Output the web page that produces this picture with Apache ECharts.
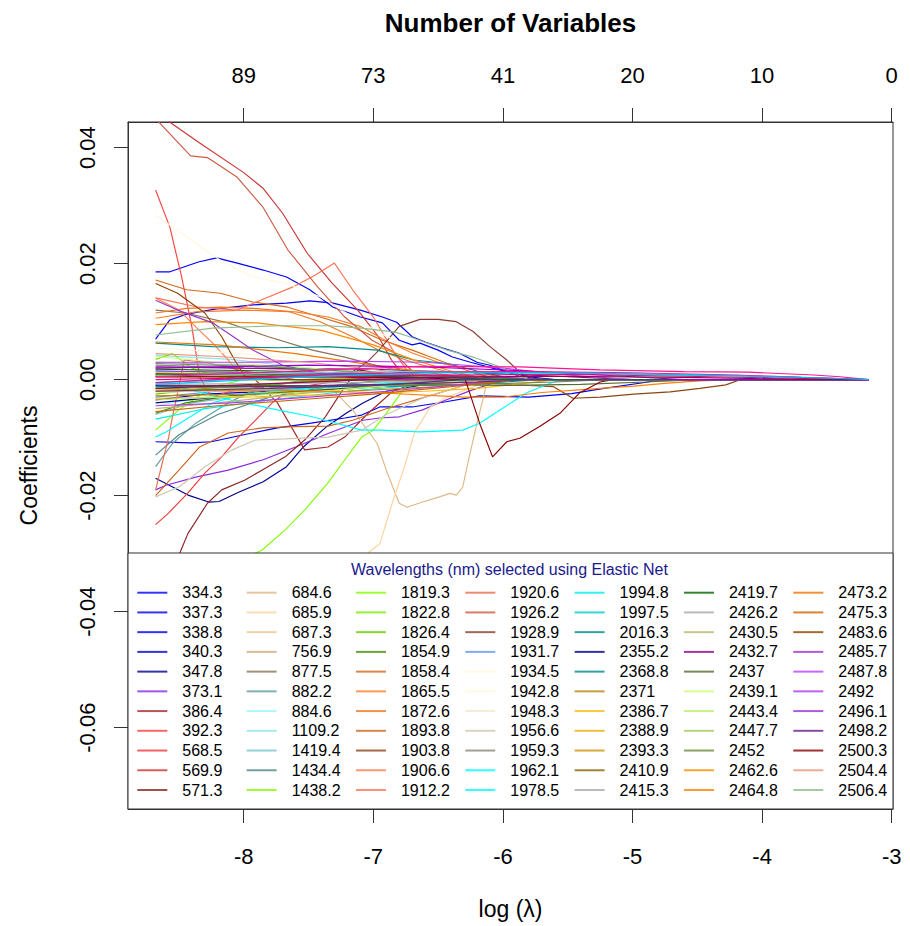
<!DOCTYPE html>
<html>
<head>
<meta charset="utf-8">
<script src="https://cdn.jsdelivr.net/npm/echarts@6/dist/echarts.min.js"></script>
<style>
html,body{margin:0;padding:0;background:#fff;}
#chart{width:910px;height:926px;}
</style>
</head>
<body>
<div id="chart"></div>
<script>
// ---- Data ----
const wavelengths = [
  '334.3','337.3','338.8','340.3','347.8','373.1','386.4','392.3','568.5','569.9','571.3',
  '684.6','685.9','687.3','756.9','877.5','882.2','884.6','1109.2','1419.4','1434.4','1438.2',
  '1819.3','1822.8','1826.4','1854.9','1858.4','1865.5','1872.6','1893.8','1903.8','1906.6','1912.2',
  '1920.6','1926.2','1928.9','1931.7','1934.5','1942.8','1948.3','1956.6','1959.3','1962.1','1978.5',
  '1994.8','1997.5','2016.3','2355.2','2368.8','2371','2386.7','2388.9','2393.3','2410.9','2415.3',
  '2419.7','2426.2','2430.5','2432.7','2437','2439.1','2443.4','2447.7','2452','2462.6','2464.8',
  '2473.2','2475.3','2483.6','2485.7','2487.8','2492','2496.1','2498.2','2500.3','2504.4','2506.4'
];

const lineColors = [
  '#0000FF','#0000FF','#0000EE','#0000CD','#00008B','#8A2BE2','#A52A2A','#FF4040','#EE3B3B','#CD3333','#8B2323',
  '#DEB887','#FFD39B','#EEC591','#CDAA7D','#8B7355','#5F9EA0','#98F5FF','#8EE5EE','#7AC5CD','#53868B','#7FFF00',
  '#7FFF00','#76EE00','#66CD00','#458B00','#D2691E','#FF7F24','#EE7621','#CD661D','#8B4513','#FF7F50','#FF7256',
  '#EE6A50','#CD5B45','#8B3E2F','#6495ED','#FFF8DC','#FFF8DC','#EEE8CD','#CDC8B1','#8B8878','#00FFFF','#00FFFF',
  '#00EEEE','#00CDCD','#008B8B','#00008B','#008B8B','#B8860B','#FFB90F','#EEAD0E','#CD950C','#8B6508','#A9A9A9',
  '#006400','#A9A9A9','#BDB76B','#8B008B','#556B2F','#CAFF70','#BCEE68','#A2CD5A','#6E8B3D','#FF8C00','#FF7F00',
  '#EE7600','#CD6600','#8B4500','#9932CC','#BF3EFF','#B23AEE','#9A32CD','#68228B','#8B0000','#E9967A','#8FBC8F'
];

// coefficient paths: [log(lambda), coefficient]
const coefPaths = [
  // 334.3
  [[-8.68,0.0186],[-8.57,0.0186],[-8.35,0.0203],[-8.21,0.0210],[-8.05,0.0201],[-7.85,0.0189],[-7.67,0.0177],[-7.49,0.0155],[-7.31,0.0125],[-7.10,0.0108],[-6.93,0.0098],[-6.80,0.0068],[-6.70,0.0060],[-6.64,0.0063],[-6.50,0.0051],[-6.39,0.0039],[-6.25,0.0030],[-6.08,0.0020],[-5.80,0.0005],[-5.60,0],[-3.18,0]],
  // 337.3
  [[-8.68,0.0070],[-8.57,0.0103],[-8.44,0.0113],[-8.21,0.0122],[-7.93,0.0129],[-7.67,0.0132],[-7.49,0.0136],[-7.31,0.0132],[-7.10,0.0120],[-6.93,0.0108],[-6.82,0.0099],[-6.70,0.0074],[-6.60,0.0065],[-6.47,0.0055],[-6.34,0.0046],[-6.20,0.0030],[-6.10,0.0025],[-5.90,0.0008],[-5.70,0],[-3.18,0]],
  // 338.8
  [[-8.68,-0.0107],[-8.41,-0.0109],[-8.25,-0.0107],[-8.00,-0.0095],[-7.74,-0.0083],[-7.48,-0.0075],[-7.22,-0.0066],[-7.09,-0.0061],[-6.95,-0.0047],[-6.70,-0.0047],[-6.44,-0.0038],[-6.18,-0.0028],[-5.80,-0.0030],[-5.47,-0.0024],[-5.22,-0.0015],[-4.88,-0.0004],[-4.80,0],[-3.18,0]],
  // 340.3
  [[-8.68,-0.0035],[-8.30,-0.0025],[-7.80,-0.0020],[-7.20,-0.0010],[-6.60,-0.0005],[-6.20,0],[-3.18,0]],
  // 347.8
  [[-8.68,-0.0170],[-8.53,-0.0187],[-8.43,-0.0199],[-8.27,-0.0211],[-8.19,-0.0210],[-8.04,-0.0194],[-7.85,-0.0176],[-7.67,-0.0150],[-7.54,-0.0116],[-7.36,-0.0081],[-7.21,-0.0058],[-7.08,-0.0040],[-6.90,-0.0020],[-6.60,-0.0008],[-6.30,0],[-3.18,0]],
  // 373.1
  [[-8.68,-0.0190],[-8.60,-0.0182],[-8.37,-0.0168],[-8.12,-0.0156],[-7.85,-0.0138],[-7.60,-0.0116],[-7.34,-0.0092],[-7.08,-0.0070],[-6.95,-0.0066],[-6.80,-0.0064],[-6.62,-0.0052],[-6.44,-0.0035],[-6.24,-0.0018],[-6.00,0],[-3.18,0]],
  // 386.4
  [[-8.68,0.0005],[-8.20,0.0005],[-7.91,0],[-7.74,-0.0040],[-7.53,-0.0121],[-7.35,-0.0116],[-7.22,-0.0099],[-7.05,-0.0060],[-6.85,-0.0020],[-6.60,0],[-3.18,0]],
  // 392.3
  [[-8.68,0.0327],[-8.57,0.0263],[-8.48,0.0178],[-8.40,0.0091],[-8.34,0.0005],[-8.25,-0.0030],[-8.10,-0.0020],[-7.80,-0.0010],[-7.40,0],[-3.18,0]],
  // 568.5
  [[-8.68,-0.0250],[-8.58,-0.0230],[-8.43,-0.0195],[-8.30,-0.0161],[-8.17,-0.0133],[-8.04,-0.0099],[-7.91,-0.0070],[-7.78,-0.0040],[-7.68,-0.0023],[-7.50,-0.0010],[-7.20,0],[-3.18,0]],
  // 569.9
  [[-8.68,0.0480],[-8.57,0.0444],[-8.34,0.0408],[-8.00,0.0357],[-7.85,0.0330],[-7.70,0.0287],[-7.51,0.0218],[-7.32,0.0167],[-7.12,0.0120],[-6.96,0.0074],[-6.86,0.0034],[-6.76,0.0005],[-6.60,0],[-3.18,0]],
  // 571.3
  [[-8.68,-0.0374],[-8.57,-0.0337],[-8.49,-0.0297],[-8.43,-0.0265],[-8.28,-0.0213],[-8.17,-0.0190],[-7.99,-0.0173],[-7.86,-0.0156],[-7.68,-0.0133],[-7.53,-0.0104],[-7.37,-0.0064],[-7.22,-0.0012],[-7.12,0.0017],[-6.90,0.0010],[-6.60,0],[-3.18,0]],
  // 684.6
  [[-8.68,-0.0010],[-7.80,-0.0012],[-7.31,-0.0018],[-7.16,-0.0052],[-6.97,-0.0110],[-6.90,-0.0156],[-6.85,-0.0185],[-6.80,-0.0213],[-6.74,-0.0220],[-6.62,-0.0211],[-6.49,-0.0202],[-6.41,-0.0196],[-6.36,-0.0199],[-6.31,-0.0185],[-6.26,-0.0133],[-6.20,-0.0075],[-6.15,-0.0030],[-6.12,0],[-3.18,0]],
  // 685.9
  [[-8.68,-0.0595],[-8.49,-0.0584],[-8.36,-0.0549],[-8.26,-0.0504],[-8.18,-0.0478],[-8.03,-0.0470],[-7.93,-0.0435],[-7.80,-0.0400],[-7.67,-0.0359],[-7.54,-0.0340],[-7.47,-0.0340],[-7.33,-0.0354],[-7.18,-0.0333],[-7.05,-0.0300],[-6.95,-0.0283],[-6.85,-0.0210],[-6.76,-0.0150],[-6.68,-0.0090],[-6.56,-0.0047],[-6.43,-0.0030],[-6.20,-0.0010],[-6.00,0],[-3.18,0]],
  // 687.3
  [[-8.68,0.0020],[-8.20,0.0015],[-7.60,0.0010],[-7.00,0.0004],[-6.60,0],[-3.18,0]],
  // 756.9
  [[-8.68,-0.0015],[-8.00,-0.0020],[-7.40,-0.0015],[-6.80,-0.0005],[-6.50,0],[-3.18,0]],
  // 877.5
  [[-8.68,0.0120],[-8.45,0.0115],[-8.12,0.0098],[-7.81,0.0074],[-7.47,0.0051],[-7.22,0.0039],[-6.90,0.0020],[-6.50,0.0005],[-6.20,0],[-3.18,0]],
  // 882.2
  [[-8.68,-0.0150],[-8.55,-0.0110],[-8.37,-0.0075],[-8.12,-0.0040],[-7.86,-0.0012],[-7.50,0],[-3.18,0]],
  // 884.6
  [[-8.68,-0.0045],[-8.30,-0.0030],[-7.70,-0.0020],[-7.00,-0.0010],[-6.50,0],[-3.18,0]],
  // 1109.2
  [[-8.68,0.0042],[-8.10,0.0035],[-7.50,0.0020],[-6.90,0.0008],[-6.40,0],[-3.18,0]],
  // 1419.4
  [[-8.68,-0.0060],[-8.40,-0.0040],[-7.90,-0.0025],[-7.30,-0.0010],[-6.80,0],[-3.18,0]],
  // 1434.4
  [[-8.68,-0.0130],[-8.50,-0.0095],[-8.20,-0.0060],[-7.80,-0.0030],[-7.30,-0.0010],[-6.90,0],[-3.18,0]],
  // 1438.2
  [[-8.68,-0.0374],[-8.57,-0.0359],[-8.41,-0.0331],[-8.28,-0.0326],[-8.16,-0.0321],[-8.03,-0.0311],[-7.86,-0.0294],[-7.68,-0.0259],[-7.53,-0.0225],[-7.35,-0.0178],[-7.22,-0.0138],[-7.09,-0.0099],[-7.00,-0.0087],[-6.90,-0.0058],[-6.77,-0.0018],[-6.70,0],[-3.18,0]],
  // 1819.3
  [[-8.68,-0.0087],[-8.50,-0.0052],[-8.24,-0.0012],[-8.00,0],[-3.18,0]],
  // 1822.8
  [[-8.68,0.0035],[-8.55,0.0045],[-8.40,0.0020],[-8.20,0.0005],[-8.00,0],[-3.18,0]],
  // 1826.4
  [[-8.68,-0.0025],[-8.30,-0.0015],[-7.80,-0.0008],[-7.30,0],[-3.18,0]],
  // 1854.9
  [[-8.68,-0.0058],[-8.45,-0.0040],[-8.10,-0.0028],[-7.60,-0.0020],[-7.00,-0.0012],[-6.50,-0.0005],[-6.20,0],[-3.18,0]],
  // 1858.4
  [[-8.68,0.0172],[-8.44,0.0155],[-8.18,0.0149],[-7.93,0.0134],[-7.66,0.0125],[-7.41,0.0108],[-7.16,0.0091],[-6.93,0.0068],[-6.70,0.0051],[-6.45,0.0030],[-6.20,0.0010],[-6.00,0],[-3.18,0]],
  // 1865.5
  [[-8.68,0.0106],[-8.37,0.0117],[-7.99,0.0120],[-7.60,0.0117],[-7.35,0.0108],[-7.09,0.0091],[-6.91,0.0068],[-6.70,0.0046],[-6.50,0.0030],[-6.20,0.0012],[-5.90,0],[-3.18,0]],
  // 1872.6
  [[-8.68,0.0115],[-8.44,0.0123],[-8.18,0.0125],[-7.93,0.0123],[-7.66,0.0118],[-7.41,0.0100],[-7.16,0.0074],[-6.96,0.0051],[-6.70,0.0030],[-6.40,0.0012],[-6.10,0],[-3.18,0]],
  // 1893.8
  [[-8.68,-0.0200],[-8.50,-0.0156],[-8.34,-0.0116],[-8.12,-0.0092],[-7.86,-0.0083],[-7.60,-0.0081],[-7.35,-0.0080],[-7.16,-0.0070],[-6.90,-0.0050],[-6.60,-0.0030],[-6.30,-0.0010],[-6.10,0],[-3.18,0]],
  // 1903.8
  [[-8.68,0.0010],[-7.80,0.0005],[-6.80,0],[-6.20,-0.0005],[-5.80,-0.0010],[-5.61,-0.0012],[-5.46,-0.0032],[-5.25,-0.0030],[-4.99,-0.0025],[-4.71,-0.0021],[-4.48,-0.0015],[-4.28,-0.0009],[-4.17,0],[-3.18,0]],
  // 1906.6
  [[-8.68,0.0141],[-8.50,0.0120],[-8.37,0.0091],[-8.24,0.0063],[-8.12,0.0034],[-8.00,0],[-3.18,0]],
  // 1912.2
  [[-8.68,0.0141],[-8.35,0.0125],[-8.05,0.0120],[-7.87,0.0137],[-7.62,0.0160],[-7.45,0.0180],[-7.30,0.0201],[-7.16,0.0155],[-7.00,0.0108],[-6.85,0.0051],[-6.72,0.0010],[-6.60,0],[-3.18,0]],
  // 1920.6
  [[-8.68,-0.0190],[-8.58,-0.0100],[-8.55,-0.0064],[-8.50,-0.0012],[-8.46,0.0034],[-8.30,0.0030],[-8.00,0.0015],[-7.60,0],[-3.18,0]],
  // 1926.2
  [[-8.68,0.0450],[-8.41,0.0386],[-8.28,0.0383],[-8.05,0.0349],[-7.85,0.0297],[-7.66,0.0224],[-7.43,0.0160],[-7.22,0.0108],[-7.01,0.0068],[-6.86,0.0050],[-6.70,0.0015],[-6.60,0],[-3.18,0]],
  // 1928.9
  [[-8.68,0.0005],[-7.60,0.0005],[-7.20,0.0008],[-7.05,0.0030],[-6.96,0.0050],[-6.80,0.0092],[-6.64,0.0104],[-6.50,0.0104],[-6.36,0.0100],[-6.23,0.0083],[-6.10,0.0057],[-5.97,0.0034],[-5.87,0.0013],[-5.75,0],[-3.18,0]],
  // 1931.7
  [[-8.68,-0.0030],[-8.20,-0.0020],[-7.50,-0.0015],[-6.80,-0.0005],[-6.40,0],[-3.18,0]],
  // 1934.5
  [[-8.68,0.0284],[-8.44,0.0246],[-8.18,0.0206],[-7.93,0.0177],[-7.67,0.0166],[-7.41,0.0143],[-7.16,0.0108],[-6.90,0.0075],[-6.60,0.0045],[-6.30,0.0020],[-6.00,0],[-3.18,0]],
  // 1942.8
  [[-8.68,0.0055],[-8.00,0.0045],[-7.30,0.0030],[-6.60,0.0010],[-6.20,0],[-3.18,0]],
  // 1948.3
  [[-8.68,-0.0022],[-8.00,-0.0018],[-7.20,-0.0010],[-6.50,0],[-3.18,0]],
  // 1956.6
  [[-8.68,-0.0202],[-8.50,-0.0185],[-8.30,-0.0150],[-8.09,-0.0121],[-7.91,-0.0104],[-7.68,-0.0102],[-7.35,-0.0099],[-7.09,-0.0087],[-6.90,-0.0060],[-6.60,-0.0030],[-6.30,-0.0010],[-6.10,0],[-3.18,0]],
  // 1959.3
  [[-8.68,0.0025],[-8.00,0.0020],[-7.20,0.0015],[-6.50,0.0005],[-6.10,0],[-3.18,0]],
  // 1962.1
  [[-8.68,-0.0005],[-8.51,-0.0012],[-8.10,-0.0035],[-7.74,-0.0052],[-7.47,-0.0064],[-7.09,-0.0087],[-6.95,-0.0087],[-6.64,-0.0090],[-6.31,-0.0087],[-6.18,-0.0075],[-6.02,-0.0052],[-5.82,-0.0023],[-5.61,-0.0004],[-5.50,0],[-3.18,0]],
  // 1978.5
  [[-8.68,-0.0099],[-8.60,-0.0090],[-8.45,-0.0069],[-8.24,-0.0040],[-8.00,-0.0025],[-7.50,-0.0015],[-7.00,-0.0008],[-6.50,0],[-3.18,0]],
  // 1994.8
  [[-8.68,-0.0068],[-8.30,-0.0050],[-7.80,-0.0035],[-7.20,-0.0020],[-6.60,-0.0008],[-6.20,0],[-3.18,0]],
  // 1997.5
  [[-8.68,0.0015],[-8.00,0.0012],[-7.00,0.0008],[-6.30,0.0004],[-5.80,0],[-3.18,0]],
  // 2016.3
  [[-8.68,-0.0012],[-8.00,-0.0010],[-7.00,-0.0012],[-6.30,-0.0008],[-5.70,0],[-3.18,0]],
  // 2355.2
  [[-8.68,-0.0040],[-8.20,-0.0030],[-7.50,-0.0020],[-6.80,-0.0010],[-6.30,0],[-3.18,0]],
  // 2368.8
  [[-8.68,0.0063],[-8.24,0.0057],[-7.74,0.0055],[-7.35,0.0057],[-6.97,0.0051],[-6.69,0.0034],[-6.43,0.0028],[-6.20,0.0015],[-5.90,0],[-3.18,0]],
  // 2371
  [[-8.68,-0.0028],[-8.00,-0.0025],[-7.20,-0.0020],[-6.50,-0.0012],[-5.90,0],[-3.18,0]],
  // 2386.7
  [[-8.68,-0.0032],[-8.00,-0.0030],[-7.20,-0.0025],[-6.60,-0.0020],[-6.20,-0.0015],[-5.90,-0.0008],[-5.60,0],[-3.18,0]],
  // 2388.9
  [[-8.68,0.0012],[-8.00,0.0010],[-7.00,0.0005],[-6.40,0],[-3.18,0]],
  // 2393.3
  [[-8.68,-0.0018],[-7.80,-0.0015],[-7.00,-0.0010],[-6.30,-0.0005],[-5.80,0],[-3.18,0]],
  // 2410.9
  [[-8.68,0.0008],[-7.50,0.0006],[-6.60,0.0003],[-6.00,0],[-3.18,0]],
  // 2415.3
  [[-8.68,-0.0008],[-7.50,-0.0006],[-6.60,-0.0003],[-6.00,0],[-3.18,0]],
  // 2419.7
  [[-8.68,0.0018],[-7.80,0.0015],[-6.90,0.0010],[-6.20,0.0004],[-5.60,0],[-3.18,0]],
  // 2426.2
  [[-8.68,0.0030],[-8.00,0.0025],[-7.20,0.0015],[-6.60,0.0005],[-6.20,0],[-3.18,0]],
  // 2430.5
  [[-8.68,-0.0050],[-8.20,-0.0040],[-7.60,-0.0025],[-7.00,-0.0012],[-6.50,0],[-3.18,0]],
  // 2432.7
  [[-8.68,0.0022],[-8.00,0.0020],[-7.00,0.0018],[-6.20,0.0012],[-5.50,0.0005],[-5.00,0],[-3.18,0]],
  // 2437
  [[-8.68,-0.0010],[-7.50,-0.0010],[-6.60,-0.0008],[-6.00,-0.0010],[-5.40,-0.0008],[-4.90,-0.0004],[-4.50,0],[-3.18,0]],
  // 2439.1
  [[-8.68,0.0040],[-8.20,0.0030],[-7.50,0.0020],[-6.80,0.0008],[-6.30,0],[-3.18,0]],
  // 2443.4
  [[-8.68,-0.0035],[-8.00,-0.0028],[-7.30,-0.0018],[-6.60,-0.0006],[-6.20,0],[-3.18,0]],
  // 2447.7
  [[-8.68,0.0008],[-7.80,0.0006],[-7.00,0],[-3.18,0]],
  // 2452
  [[-8.68,-0.0015],[-7.80,-0.0012],[-7.00,-0.0010],[-6.20,-0.0008],[-5.60,-0.0004],[-5.20,0],[-3.18,0]],
  // 2462.6
  [[-8.68,0.0095],[-8.30,0.0100],[-7.90,0.0098],[-7.40,0.0085],[-7.00,0.0060],[-6.70,0.0035],[-6.40,0.0015],[-6.10,0],[-3.18,0]],
  // 2464.8
  [[-8.68,-0.0020],[-7.80,-0.0018],[-7.00,-0.0022],[-6.30,-0.0030],[-6.00,-0.0030],[-5.70,-0.0022],[-5.25,-0.0015],[-4.99,-0.0011],[-4.73,-0.0006],[-4.48,-0.0002],[-4.20,0],[-3.18,0]],
  // 2473.2
  [[-8.68,0.0065],[-8.20,0.0060],[-7.60,0.0045],[-7.00,0.0025],[-6.50,0.0010],[-6.10,0],[-3.18,0]],
  // 2475.3
  [[-8.68,-0.0055],[-8.20,-0.0045],[-7.60,-0.0035],[-7.00,-0.0025],[-6.40,-0.0012],[-5.90,0],[-3.18,0]],
  // 2483.6
  [[-8.68,0.0166],[-8.51,0.0149],[-8.30,0.0115],[-8.17,0.0074],[-8.07,0.0034],[-7.99,0.0005],[-7.80,0],[-3.18,0]],
  // 2485.7
  [[-8.68,0.0137],[-8.51,0.0120],[-8.24,0.0098],[-8.04,0.0068],[-7.93,0.0051],[-7.70,0.0025],[-7.40,0.0010],[-7.00,0],[-3.18,0]],
  // 2487.8
  [[-8.68,0.0030],[-8.00,0.0030],[-7.20,0.0032],[-6.60,0.0030],[-6.00,0.0020],[-5.50,0.0008],[-5.00,0],[-3.18,0]],
  // 2492
  [[-8.68,-0.0045],[-8.10,-0.0040],[-7.50,-0.0030],[-6.90,-0.0020],[-6.40,-0.0010],[-6.00,0],[-3.18,0]],
  // 2496.1
  [[-8.68,0.0015],[-7.80,0.0012],[-6.90,0.0010],[-6.20,0.0006],[-5.60,0],[-3.18,0]],
  // 2498.2
  [[-8.68,-0.0010],[-7.80,-0.0012],[-6.90,-0.0008],[-6.20,-0.0004],[-5.80,0],[-3.18,0]],
  // 2500.3
  [[-8.68,0.0005],[-7.50,0.0005],[-6.60,0.0003],[-6.29,0],[-6.18,-0.0075],[-6.08,-0.0133],[-5.97,-0.0107],[-5.87,-0.0101],[-5.72,-0.0081],[-5.56,-0.0058],[-5.41,-0.0023],[-5.25,-0.0004],[-5.15,0],[-3.18,0]],
  // 2504.4
  [[-8.68,0.0045],[-8.20,0.0040],[-7.50,0.0030],[-6.90,0.0015],[-6.50,0.0005],[-6.20,0],[-3.18,0]],
  // 2506.4
  [[-8.68,0.0077],[-8.24,0.0089],[-7.74,0.0093],[-7.35,0.0093],[-7.09,0.0089],[-6.83,0.0082],[-6.72,0.0074],[-6.43,0.0051],[-6.23,0.0039],[-6.00,0.0020],[-5.80,0],[-3.18,0]]
];

// further paths drawn in the plot but not listed in the legend
const unlistedColors = ['#698B69','#483D8B','#2F4F4F','#79CDCD','#00CED1','#9400D3','#FF1493','#EE1289','#CD1076','#8B0A50','#00BFFF'];
const unlistedPaths = [
  [[-8.68,0.0028],[-7.80,0.0022],[-7.00,0.0012],[-6.20,0.0003],[-5.80,0],[-3.18,0]],
  [[-8.68,-0.0020],[-7.80,-0.0015],[-7.00,-0.0010],[-6.30,0],[-3.18,0]],
  [[-8.68,0.0010],[-7.50,0.0008],[-6.50,0.0004],[-6.00,0],[-3.18,0]],
  [[-8.68,0.0006],[-7.50,0.0012],[-6.50,0.0015],[-5.50,0.0010],[-4.50,0.0008],[-3.80,0.0004],[-3.30,0.0001],[-3.18,0]],
  [[-8.68,-0.0005],[-7.50,0.0006],[-6.50,0.0012],[-5.50,0.0012],[-4.50,0.0008],[-3.90,0.0006],[-3.40,0.0002],[-3.18,0]],
  [[-8.68,0.0020],[-7.50,0.0025],[-6.60,0.0022],[-5.80,0.0015],[-5.00,0.0005],[-4.60,0],[-3.18,0]],
  [[-8.68,0.0005],[-7.60,0.0015],[-6.64,0.0023],[-5.87,0.0022],[-5.25,0.0017],[-4.60,0.0014],[-4.10,0.0013],[-3.60,0.0008],[-3.40,0.0005],[-3.18,0]],
  [[-8.68,-0.0005],[-7.50,0.0008],[-6.60,0.0013],[-5.80,0.0014],[-5.00,0.0012],[-4.20,0.0008],[-3.70,0.0004],[-3.18,0]],
  [[-8.68,0],[-7.50,0.0005],[-6.50,0.0008],[-5.50,0.0009],[-4.60,0.0006],[-3.90,0.0003],[-3.18,0]],
  [[-8.68,-0.0015],[-7.60,-0.0005],[-6.60,0.0004],[-5.60,0.0006],[-4.60,0.0004],[-3.80,0.0001],[-3.18,0]],
  [[-8.68,-0.0008],[-7.60,0.0004],[-6.60,0.0012],[-5.60,0.0012],[-4.60,0.0009],[-3.90,0.0005],[-3.40,0.0002],[-3.18,0]]
];

const xTickValues = [-8, -7, -6, -5, -4, -3];
const topTickLabels = ['89', '73', '41', '20', '10', '0'];
const yTickValues = [-0.06, -0.04, -0.02, 0, 0.02, 0.04];
const legendTitle = 'Wavelengths (nm) selected using Elastic Net';
const legendRows = 11;

// ---- Layout ----
const FONT = '"Liberation Sans", Arial, Helvetica, sans-serif';
const grid = { left: 128, top: 122, right: 17, bottom: 117 };
const xMin = -8.893, xMax = -2.99;
const yMin = -0.07402, yMax = 0.04443;

const series = [];
wavelengths.forEach((w, i) => {
  series.push({
    name: w, type: 'line', data: coefPaths[i], color: lineColors[i],
    symbol: 'none', showSymbol: false, silent: true, animation: false,
    lineStyle: { width: 1.15, color: lineColors[i] }, z: 2
  });
});
unlistedPaths.forEach((p, i) => {
  series.push({
    name: 'unlisted ' + (i + 1), type: 'line', data: p, color: unlistedColors[i],
    symbol: 'none', showSymbol: false, silent: true, animation: false,
    lineStyle: { width: 1.15, color: unlistedColors[i] }, z: 2
  });
});

const nCols = Math.ceil(wavelengths.length / legendRows);
const legends = [];
for (let c = 0; c < nCols; c++) {
  legends.push({
    orient: 'vertical', left: 137.3 + c * 109.33, top: 584.7, padding: 0,
    itemWidth: 30, itemHeight: 2, itemGap: 3.73, icon: 'rect',
    selectedMode: false, z: 10,
    itemStyle: { opacity: 0.8 },
    textStyle: { fontFamily: FONT, fontSize: 16, color: '#000', lineHeight: 16, padding: [0, 0, 0, 10] },
    data: wavelengths.slice(c * legendRows, (c + 1) * legendRows)
  });
}

const chart = echarts.init(document.getElementById('chart'), null, { renderer: 'svg' });
chart.setOption({
  animation: false,
  backgroundColor: '#fff',
  textStyle: { fontFamily: FONT },
  grid: Object.assign({ show: true, borderColor: '#333', borderWidth: 1, containLabel: false }, grid),
  legend: legends,
  xAxis: [
    {
      type: 'value', position: 'bottom', min: xMin, max: xMax,
      axisLine: { show: true, onZero: false, lineStyle: { color: '#333', width: 1 } },
      axisTick: { show: true, inside: false, length: 14, customValues: xTickValues, lineStyle: { color: '#333' } },
      axisLabel: { customValues: xTickValues, fontSize: 22, color: '#000', margin: 36, fontFamily: FONT,
                   formatter: v => String(v) },
      splitLine: { show: false },
      name: 'log (\u03bb)', nameLocation: 'middle', nameGap: 88,
      nameTextStyle: { fontSize: 23, color: '#000', fontFamily: FONT }
    },
    {
      type: 'value', position: 'top', min: xMin, max: xMax,
      axisLine: { show: true, onZero: false, lineStyle: { color: '#333', width: 1 } },
      axisTick: { show: true, inside: false, length: 14, customValues: xTickValues, lineStyle: { color: '#333' } },
      axisLabel: { customValues: xTickValues, fontSize: 22, color: '#000', margin: 36, fontFamily: FONT,
                   formatter: v => { const k = xTickValues.findIndex(t => Math.abs(t - v) < 1e-6); return k >= 0 ? topTickLabels[k] : ''; } },
      splitLine: { show: false },
      name: 'Number of Variables', nameLocation: 'middle', nameGap: 86,
      nameTextStyle: { fontSize: 26, fontWeight: 'bold', color: '#000', fontFamily: FONT }
    }
  ],
  yAxis: {
    type: 'value', min: yMin, max: yMax,
    axisLine: { show: true, onZero: false, lineStyle: { color: '#333', width: 1 } },
    axisTick: { show: true, inside: false, length: 14, customValues: yTickValues, lineStyle: { color: '#333' } },
    axisLabel: { customValues: yTickValues, rotate: 90, fontSize: 22, color: '#000', margin: 30, fontFamily: FONT,
                 formatter: v => v.toFixed(2) },
    splitLine: { show: false },
    name: 'Coefficients', nameLocation: 'middle', nameGap: 88,
    nameTextStyle: { fontSize: 23, color: '#000', fontFamily: FONT }
  },
  graphic: [
    { type: 'rect', z: 5, silent: true,
      shape: { x: 128, y: 553, width: 765, height: 256 },
      style: { fill: '#fff', stroke: '#333', lineWidth: 1 } },
    { type: 'text', z: 11, silent: true, x: 509.5, y: 569,
      style: { text: legendTitle, fill: '#1a1a8c', font: '16px ' + FONT, align: 'center', verticalAlign: 'middle' } }
  ],
  series: series
});
</script>
</body>
</html>
